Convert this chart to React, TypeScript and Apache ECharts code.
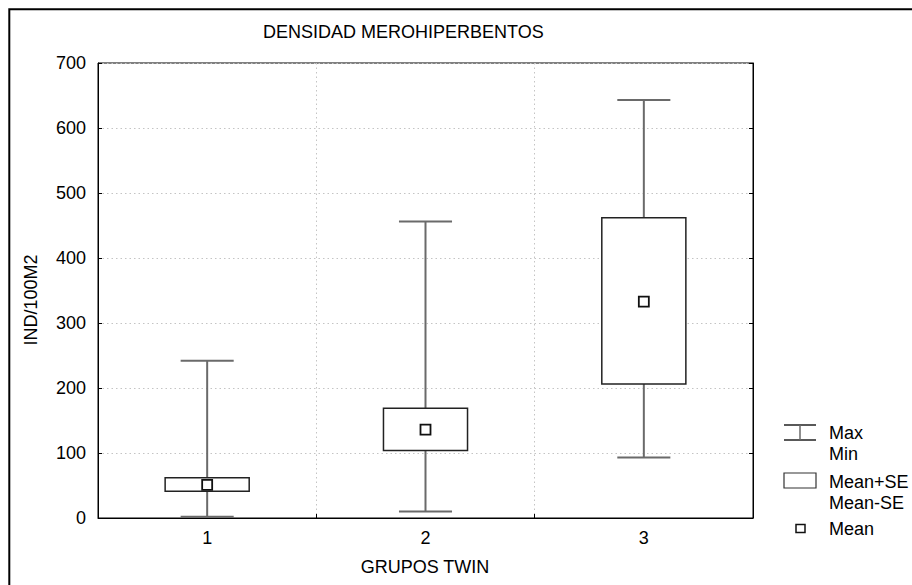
import React, { useEffect, useRef } from "react";
import * as echarts from "echarts";

const categories = ["1", "2", "3"];
const maxVals = [242, 456, 643];
const minVals = [2, 10, 93];
const seHigh = [62, 169, 462];
const seLow = [41, 104, 206];
const means = [51, 136, 333];
const yTicks = [0, 100, 200, 300, 400, 500, 600, 700];

const FONT = 'Arial, "Liberation Sans", sans-serif';
const FS = 18;

export default function App() {
  const ref = useRef<HTMLDivElement>(null);
  useEffect(() => {
    const chart = echarts.init(ref.current!, null, { renderer: "svg" });
    const data = categories.map((c, i) => [i, minVals[i], seLow[i], means[i], seHigh[i], maxVals[i]]);
    const option: any = {
      animation: false,
      backgroundColor: "#fff",
      textStyle: { fontFamily: FONT },
      grid: {
        left: 98, top: 63, right: 159, bottom: 67,
        show: true, borderColor: "#000", borderWidth: 1, backgroundColor: "transparent",
      },
      xAxis: {
        type: "category",
        data: categories,
        boundaryGap: true,
        axisLine: { lineStyle: { color: "#000", width: 1 } },
        axisTick: { show: true, inside: true, length: 4, lineStyle: { color: "#000" } },
        axisLabel: { color: "#000", fontSize: FS, fontFamily: FONT, margin: 11 },
        splitLine: { show: true, lineStyle: { color: "#c4c4c4", type: [1.5, 3], width: 1 } },
      },
      yAxis: [
        {
          type: "value",
          min: 0, max: 700, interval: 100,
          axisLine: { show: true, lineStyle: { color: "#000", width: 1 } },
          axisTick: { show: true, inside: true, length: 4, lineStyle: { color: "#000" } },
          axisLabel: {
            color: "#000", fontSize: FS, fontFamily: FONT, margin: 12,
            formatter: (v: number) => (yTicks.includes(v) ? String(v) : ""),
          },
          splitLine: { show: true, lineStyle: { color: "#c4c4c4", type: [1.5, 3], width: 1 } },
        },
        {
          type: "value",
          position: "right",
          min: 0, max: 700, interval: 100,
          axisLine: { show: true, lineStyle: { color: "#000", width: 1 } },
          axisTick: { show: true, inside: true, length: 4, lineStyle: { color: "#000" } },
          axisLabel: { show: false },
          splitLine: { show: false },
        },
      ],
      series: [
        {
          type: "custom",
          data,
          encode: { x: 0, y: [1, 2, 3, 4, 5] },
          renderItem: (params: any, api: any) => {
            const i = api.value(0);
            const band = api.size([1, 0])[0];
            const pMax = api.coord([i, api.value(5)]);
            const pMin = api.coord([i, api.value(1)]);
            const pHi = api.coord([i, api.value(4)]);
            const pLo = api.coord([i, api.value(2)]);
            const pMean = api.coord([i, api.value(3)]);
            const x = pMax[0];
            const boxW = band * 0.385;
            const capW = band * 0.243;
            const whisk = { stroke: "#6a6a6a", lineWidth: 2 };
            return {
              type: "group",
              children: [
                { type: "line", shape: { x1: x, y1: pMax[1], x2: x, y2: pMin[1] }, style: whisk },
                { type: "line", shape: { x1: x - capW / 2, y1: pMax[1], x2: x + capW / 2, y2: pMax[1] }, style: whisk },
                { type: "line", shape: { x1: x - capW / 2, y1: pMin[1], x2: x + capW / 2, y2: pMin[1] }, style: whisk },
                {
                  type: "rect",
                  shape: { x: x - boxW / 2, y: pHi[1], width: boxW, height: pLo[1] - pHi[1] },
                  style: { fill: "#fff", stroke: "#222", lineWidth: 1.5 },
                },
                {
                  type: "rect",
                  shape: { x: pMean[0] - 5, y: pMean[1] - 5, width: 10, height: 10 },
                  style: { fill: "#fff", stroke: "#111", lineWidth: 1.8 },
                },
              ],
            };
          },
        },
      ],
      graphic: [
        {
          type: "rect", silent: true,
          shape: { x: 9.3, y: 9.3, width: 1200, height: 1200 },
          style: { fill: "none", stroke: "#000", lineWidth: 2 },
        },
        {
          type: "text", x: 263, y: 32,
          style: { text: "DENSIDAD MEROHIPERBENTOS", fill: "#000", font: `${FS}px ${FONT}`, align: "left", verticalAlign: "middle" },
        },
        {
          type: "text", x: 31, y: 300, rotation: Math.PI / 2,
          style: { text: "IND/100M2", fill: "#000", font: `${FS}px ${FONT}`, align: "center", verticalAlign: "middle" },
        },
        {
          type: "text", x: 425, y: 567,
          style: { text: "GRUPOS TWIN", fill: "#000", font: `${FS}px ${FONT}`, align: "center", verticalAlign: "middle" },
        },
        // legend: max/min
        { type: "line", shape: { x1: 784, y1: 425, x2: 816, y2: 425 }, style: { stroke: "#222", lineWidth: 1.5 } },
        { type: "line", shape: { x1: 784, y1: 440, x2: 816, y2: 440 }, style: { stroke: "#222", lineWidth: 1.5 } },
        { type: "line", shape: { x1: 800, y1: 425, x2: 800, y2: 440 }, style: { stroke: "#6a6a6a", lineWidth: 1.5 } },
        { type: "text", x: 829, y: 433, style: { text: "Max", fill: "#000", font: `${FS}px ${FONT}`, verticalAlign: "middle" } },
        { type: "text", x: 829, y: 454, style: { text: "Min", fill: "#000", font: `${FS}px ${FONT}`, verticalAlign: "middle" } },
        {
          type: "rect", shape: { x: 784, y: 473, width: 32, height: 15 },
          style: { fill: "#fff", stroke: "#333", lineWidth: 1.2 },
        },
        { type: "text", x: 829, y: 482, style: { text: "Mean+SE", fill: "#000", font: `${FS}px ${FONT}`, verticalAlign: "middle" } },
        { type: "text", x: 829, y: 503, style: { text: "Mean-SE", fill: "#000", font: `${FS}px ${FONT}`, verticalAlign: "middle" } },
        {
          type: "rect", shape: { x: 796, y: 524.5, width: 9, height: 8 },
          style: { fill: "#fff", stroke: "#111", lineWidth: 1.5 },
        },
        { type: "text", x: 829, y: 529, style: { text: "Mean", fill: "#000", font: `${FS}px ${FONT}`, verticalAlign: "middle" } },
      ],
    };
    chart.setOption(option);
    return () => chart.dispose();
  }, []);
  return (
    <div
      ref={ref}
      style={{ position: "absolute", left: 0, top: 0, width: 912, height: 585 }}
    />
  );
}
